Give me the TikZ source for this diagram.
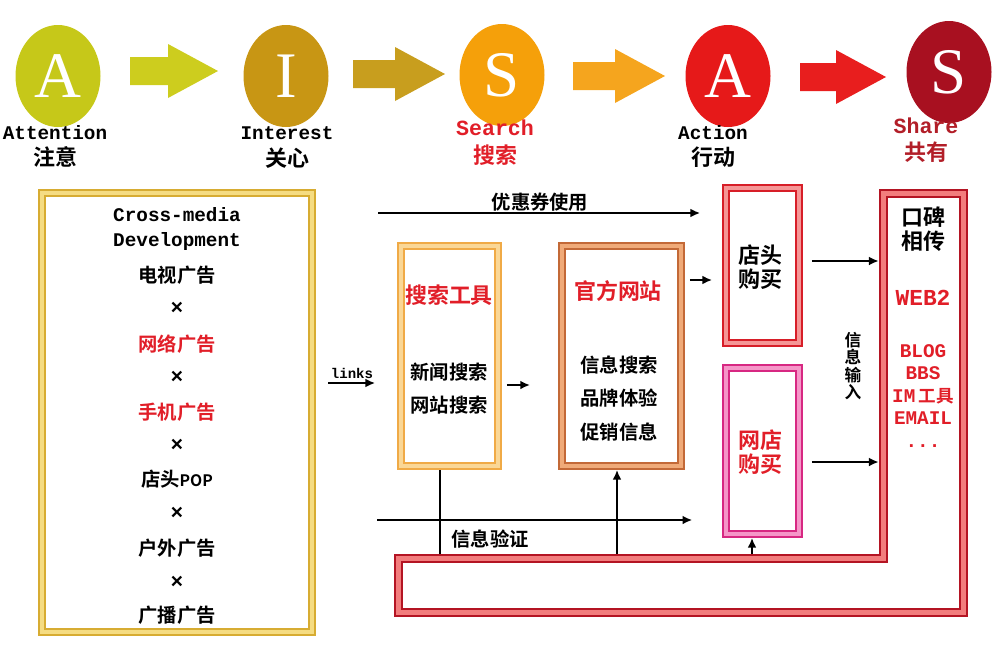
\documentclass[tikz,border=0pt]{standalone}
\usepackage{fontspec}
\newfontfamily\cjk{Noto Sans CJK SC}[BoldFont={Noto Sans CJK SC Bold}]
\newfontfamily\mono{Liberation Mono}
\newfontfamily\serifL{Liberation Serif}
\usetikzlibrary{shapes.geometric,arrows.meta,positioning}

\definecolor{cA}{RGB}{198,200,25}
\definecolor{cI}{RGB}{200,150,20}
\definecolor{cS}{RGB}{245,160,10}
\definecolor{cAc}{RGB}{230,25,25}
\definecolor{cSh}{RGB}{168,16,32}
\definecolor{arrA}{RGB}{205,205,30}
\definecolor{arrI}{RGB}{200,158,30}
\definecolor{arrS}{RGB}{245,165,30}
\definecolor{arrAc}{RGB}{232,30,30}
\definecolor{zred}{RGB}{225,30,40}
\definecolor{shred}{RGB}{178,30,40}
\definecolor{goldL}{RGB}{215,172,50}
\definecolor{goldF}{RGB}{245,220,130}
\definecolor{srchL}{RGB}{240,170,70}
\definecolor{srchF}{RGB}{250,215,150}
\definecolor{siteL}{RGB}{195,105,55}
\definecolor{siteF}{RGB}{240,170,120}
\definecolor{storeL}{RGB}{215,30,40}
\definecolor{storeF}{RGB}{245,150,150}
\definecolor{shopL}{RGB}{215,40,130}
\definecolor{shopF}{RGB}{245,150,200}
\definecolor{bandL}{RGB}{180,20,35}
\definecolor{bandF}{RGB}{242,125,125}

\newcommand{\pxu}{0.02cm}

\tikzset{
  letter/.style={ellipse, fill=#1, minimum width=85*\pxu, minimum height=102*\pxu, inner sep=0,
    text=white, font=\serifL\fontsize{37}{37}\selectfont},
  stage/.style={font=\mono\bfseries\fontsize{11}{12}\selectfont, inner sep=0},
  zh/.style={font=\cjk\bfseries\fontsize{11}{12}\selectfont, inner sep=0},
  zhbig/.style={font=\cjk\bfseries\fontsize{12.5}{14}\selectfont, inner sep=0},
  dframe/.style 2 args={draw=#1, double=#2, line width=1pt, double distance=2.5pt,
    inner sep=0, outer sep=2.25pt},
  arr/.style={-{Latex[length=5.5pt,width=5pt]}, line width=1pt}
}

\begin{document}
\begin{tikzpicture}[x=0.02cm, y=-0.02cm]
\useasboundingbox (0,0) rectangle (1000,660);

% AISAS circles
\node[letter=cA]  (cAtt) at (58,76)  {A};
\node[letter=cI]  (cInt) at (286,76) {I};
\node[letter=cS]  (cSea) at (502,75) {S};
\node[letter=cAc] (cAct) at (728,76) {A};
\node[letter=cSh] (cSha) at (949,72) {S};

% block arrows between the stages
\foreach \xa/\xb/\ym/\cl in {130/218/71/arrA, 353/445/74/arrI, 573/665/76/arrS, 800/886/77/arrAc} {
    \fill[\cl] (\xa,{\ym-14}) -- ({\xb-50},{\ym-14}) -- ({\xb-50},{\ym-27}) -- (\xb,\ym)
      -- ({\xb-50},{\ym+27}) -- ({\xb-50},{\ym+14}) -- (\xa,{\ym+14}) -- cycle;
}

% stage labels
\node[stage] (lAtt) at (55,133) {Attention};
\node[zhbig] (zAtt) at (55,157) {注意};
\node[stage] (lInt) at (287,133) {Interest};
\node[zhbig] (zInt) at (287,158) {关心};
\node[stage, text=zred, font=\mono\bfseries\fontsize{12.3}{13}\selectfont] (lSea) at (495,128) {Search};
\node[zhbig, text=zred] (zSea) at (495,155) {搜索};
\node[stage] (lAct) at (713,133) {Action};
\node[zhbig] (zAct) at (713,157) {行动};
\node[stage, text=shred, font=\mono\bfseries\fontsize{12.3}{13}\selectfont] (lSha) at (926,126) {Share};
\node[zhbig, text=shred] (zSha) at (926,152) {共有};

% cross media box
\node[dframe={goldL}{goldF}, minimum width=270*\pxu, minimum height=439*\pxu] (media) at (177,412.5) {};
\node[stage] (cm1) at (177,215) {Cross-media};
\node[stage] (cm2) at (177,241) {Development};
\foreach \yy/\cl/\t [count=\i] in {275/black/电视广告, 344/zred/网络广告, 412/zred/手机广告,
    479/black/店头{\fontsize{9}{10}\selectfont POP}, 548/black/户外广告, 615/black/广播广告} {
    \node[zh, text=\cl] (m\i) at (177,\yy) {\t};
}
\foreach \yy [count=\i] in {308, 377, 445, 513, 582} {
    \node[stage, font=\mono\bfseries\fontsize{12}{12}\selectfont] (x\i) at (177,\yy) {×};
}

% search tools and official site
\node[dframe={srchL}{srchF}, minimum width=97*\pxu, minimum height=220*\pxu] (search) at (449.5,356) {};
\node[zhbig, text=zred] (s0) at (449,295) {搜索工具};
\node[zh] (s1) at (449,372) {新闻搜索};
\node[zh] (s2) at (449,405) {网站搜索};

\node[dframe={siteL}{siteF}, minimum width=119*\pxu, minimum height=220*\pxu] (site) at (621.5,356) {};
\node[zhbig, text=zred] (w0) at (618,291) {官方网站};
\node[zh] (w1) at (619,365) {信息搜索};
\node[zh] (w2) at (619,398) {品牌体验};
\node[zh] (w3) at (619,432) {促销信息};

% buying boxes
\node[dframe={storeL}{storeF}, minimum width=73*\pxu, minimum height=155*\pxu] (store) at (762.5,265.5) {};
\node[zhbig, align=center] (st) at (760,267) {店头\\购买};
\node[dframe={shopL}{shopF}, minimum width=73*\pxu, minimum height=166*\pxu] (shop) at (762.5,451) {};
\node[zhbig, align=center, text=zred] (sh) at (760,452) {网店\\购买};

% share column with the feedback loop
\draw[draw=bandL, double=bandF, line width=1.2pt, double distance=2.8pt, line join=miter]
  (883.5,193.5) -- (963.5,193.5) -- (963.5,612.5) -- (398.5,612.5) -- (398.5,558.5)
  -- (883.5,558.5) -- cycle;
\node[minimum width=89*\pxu, minimum height=365*\pxu, inner sep=0] (share) at (923.5,371.5) {};
\node[zhbig, align=center] (wm) at (923,229) {口碑\\相传};
\node[stage, text=zred, font=\mono\bfseries\fontsize{13}{14}\selectfont] (web) at (923,298) {WEB2};
\node[stage, text=zred, align=center, font=\mono\bfseries\fontsize{11}{12.8}\selectfont] (tools) at (923,396)
  {BLOG\\BBS\\IM\,{\cjk\fontsize{10}{12}\selectfont 工具}\\EMAIL\\...};

% connectors
\coordinate (cpA) at (378,213);
\draw[arr, shorten >=12.5pt] (cpA) -- (cpA -| store.west);
\node[zh] (cp) at (540,202) {优惠券使用};

\coordinate (lkA) at (328,383);
\draw[arr, shorten >=12.5pt] (lkA) -- (lkA -| search.west);
\node[stage, font=\mono\bfseries\fontsize{8}{9}\selectfont] (lk) at (352,373) {links};

\draw[arr, shorten <=2.8pt, shorten >=16pt] (search.east |- 0,385) -- (site.west |- 0,385);
\draw[arr, shorten <=2.8pt, shorten >=5.7pt] (site.east |- 0,280) -- (store.west |- 0,280);

\draw[arr, shorten <=5pt] (store.east |- 0,261) -- (share.west |- 0,261);
\draw[arr, shorten <=5pt] (shop.east |- 0,462) -- (share.west |- 0,462);
\node[zh, align=center, font=\cjk\bfseries\fontsize{9.5}{9.8}\selectfont] (input) at (853,366) {信\\息\\输\\入};

\coordinate (vfA) at (377,520);
\draw[arr, shorten >=17pt] (vfA) -- (vfA -| shop.west);
\node[zh] (vf) at (490,539) {信息验证};

\coordinate (b1) at (440,554);
\coordinate (b2) at (617,554);
\coordinate (b3) at (752,554);
\draw[line width=1pt] (b1) -- (b1 |- search.south);
\draw[arr] (b2) -- (b2 |- site.south);
\draw[arr] (b3) -- (b3 |- shop.south);

\end{tikzpicture}
\end{document}
